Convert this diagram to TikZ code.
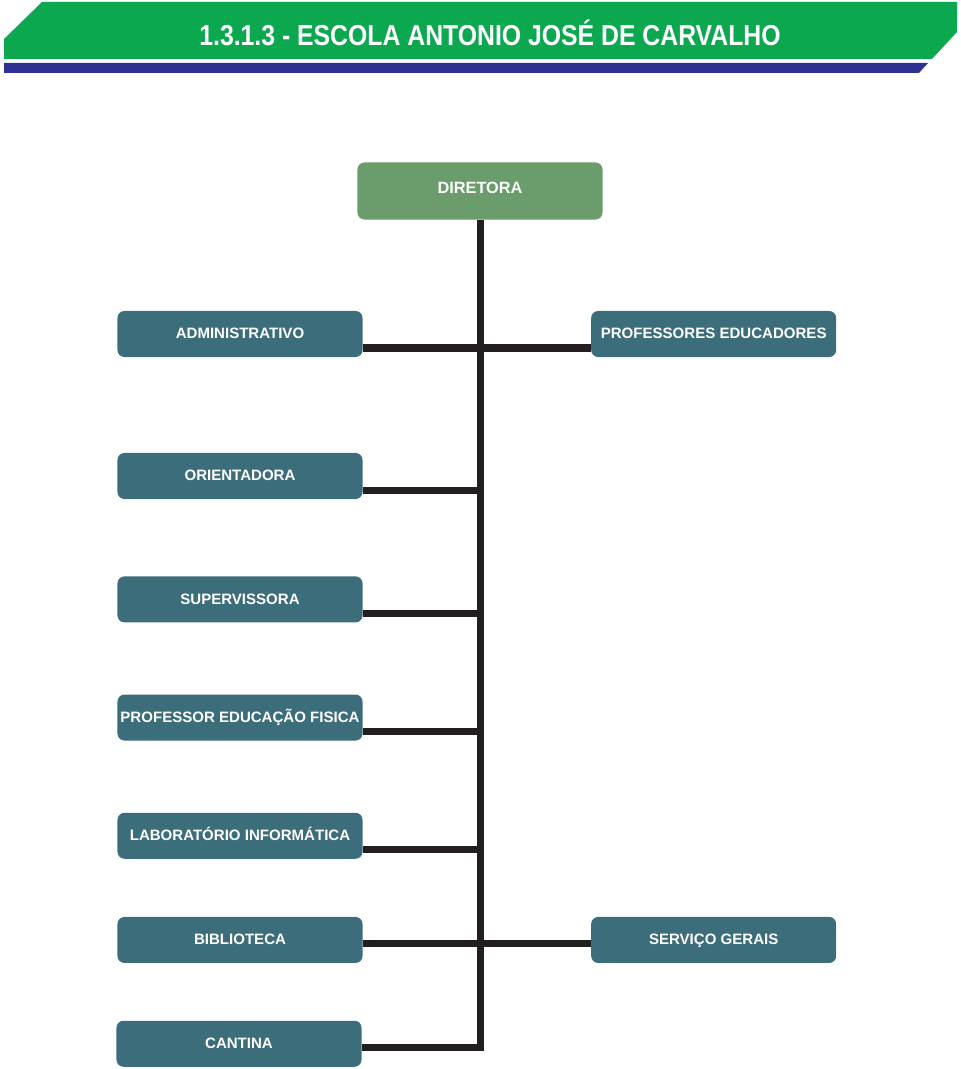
\documentclass[tikz,border=0pt]{standalone}
\usepackage{fontspec}
\setmainfont{Liberation Sans}
\newfontfamily\titlefont[FakeStretch=0.86]{Liberation Sans}
\usepackage{xcolor}
\usetikzlibrary{positioning,calc}

\definecolor{bandgreen}{HTML}{0BA84F}
\definecolor{bandblue}{HTML}{2E3192}
\definecolor{boxteal}{HTML}{3B6D7A}
\definecolor{boxgreen}{HTML}{6A9C6C}
\definecolor{linedark}{HTML}{231F20}

\begin{document}
\begin{tikzpicture}[
        x=0.025cm, y=-0.025cm,
        font=\bfseries\fontsize{10.7pt}{12pt}\selectfont,
        node distance=2.4cm and 5.7cm,
        every node/.style={align=center, inner sep=0pt, text=white},
        unit/.style ={fill=boxteal,  rounded corners=5pt, minimum width=6.125cm, minimum height=1.15cm,
                      text height=8pt, text depth=1pt},
        head/.style ={fill=boxgreen, rounded corners=5pt, minimum width=6.125cm, minimum height=1.425cm,
                      font=\bfseries\fontsize{11.6pt}{13pt}\selectfont},
        link/.style ={line width=0.175cm, linedark},
    ]
        \useasboundingbox (0,0) rectangle (960,1069);

        % --- Faixa do titulo ---
        \fill[bandgreen] (42,2) -- (957,2) -- (957,32) -- (932,59) -- (4,59) -- (4,39) -- cycle;
        \fill[bandblue] (4,63) -- (928,63) -- (919,73) -- (4,73) -- cycle;
        \node[font=\titlefont\bfseries\fontsize{20.5pt}{24pt}\selectfont] (title) at (490,33)
            {1.3.1.3 - ESCOLA ANTONIO JOSÉ DE CARVALHO};

        % --- Direcao ---
        \node[head] (dir) at (480,191) {\raisebox{4pt}{DIRETORA}};

        % --- Coluna esquerda ---
        \node[unit] (adm) at (240,334) {ADMINISTRATIVO};
        \node[unit, below=2.385cm of adm] (ori) {ORIENTADORA};
        \node[unit, below=1.92cm of ori]  (sup) {SUPERVISSORA};
        \node[unit, below=1.79cm of sup]  (pef) {PROFESSOR EDUCAÇÃO FISICA};
        \node[unit, below=1.79cm of pef]  (lab) {LABORATÓRIO INFORMÁTICA};
        \node[unit, below=1.44cm of lab]  (bib) {BIBLIOTECA};
        \node[unit, below=1.43cm of bib, xshift=-0.025cm] (can) {CANTINA};

        % --- Coluna direita ---
        \node[unit, right=5.7cm of adm] (prof) {PROFESSORES EDUCADORES};
        \node[unit, right=5.7cm of bib] (serv) {SERVIÇO GERAIS};

        % --- Ligacoes ---
        \coordinate (end) at ($(can.east)+(0,4)$);
        \draw[link] (dir.south) -- (dir.south |- end) -- (end);
        \foreach \u in {adm,ori,sup,pef,lab}{
            \coordinate (b-\u) at ($(\u.east)+(0,14)$);
            \draw[link] (b-\u) -- (b-\u -| dir.south);
        }
        \draw[link] ($(bib.east)+(0,4)$) -- ($(serv.west)+(0,4)$);
        \coordinate (b-prof) at ($(prof.west)+(0,14)$);
        \draw[link] (b-prof) -- (b-prof -| dir.south);
    \end{tikzpicture}
\end{document}
